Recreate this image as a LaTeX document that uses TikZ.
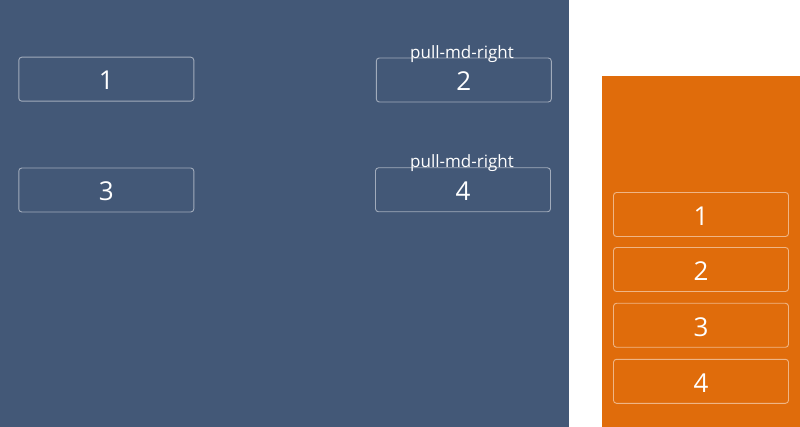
\documentclass[tikz,border=0pt]{standalone}
\usepackage{fontspec}
\setmainfont{Open Sans}
\definecolor{panelblue}{HTML}{435877}
\definecolor{panelorange}{HTML}{E06C0B}
\tikzset{
  cell/.style={draw=white, draw opacity=0.5, line width=0.9pt, rounded corners=3pt,
    text=white, font=\fontsize{26}{26}\selectfont, inner sep=0pt,
    minimum width=175pt, minimum height=44pt},
  digit/.style={text=white, font=\fontsize{26}{26}\selectfont, inner sep=0pt},
  pulllabel/.style={text=white, font=\fontsize{17}{17}\selectfont, inner sep=0pt, anchor=base}
}
\begin{document}
\begin{tikzpicture}[x=1pt,y=-1pt]
\useasboundingbox (0,0) rectangle (800,427);
\fill[white] (0,0) rectangle (800,427);
\fill[panelblue] (0,0) rectangle (568.5,427);
\fill[panelorange] (602,76) rectangle (800,427);
% blue panel cells
\node[cell] (b1) at (106.3,79.2) {};
\node[cell] (b2) at (463.8,80) {};
\node[cell] (b3) at (106.3,190) {};
\node[cell] (b4) at (463,189.8) {};
\node[digit] (t1) at ([yshift=-1.5pt]b1.center) {1};
\node[digit] (t2) at ([yshift=-1.5pt]b2.center) {2};
\node[digit] (t3) at ([yshift=-1.5pt]b3.center) {3};
\node[digit] (t4) at ([yshift=-1.5pt]b4.center) {4};
\node[pulllabel] (l2) at (462,58.3) {pull-md-right};
\node[pulllabel] (l4) at (462,168) {pull-md-right};
% orange panel cells
\node[cell] (o1) at (701,214.5) {};
\node[cell] (o2) at (701,269.5) {};
\node[cell] (o3) at (701,325.3) {};
\node[cell] (o4) at (701,381.3) {};
\node[digit] (u1) at ([yshift=-1.5pt]o1.center) {1};
\node[digit] (u2) at ([yshift=-1.5pt]o2.center) {2};
\node[digit] (u3) at ([yshift=-1.5pt]o3.center) {3};
\node[digit] (u4) at ([yshift=-1.5pt]o4.center) {4};
\end{tikzpicture}
\end{document}
